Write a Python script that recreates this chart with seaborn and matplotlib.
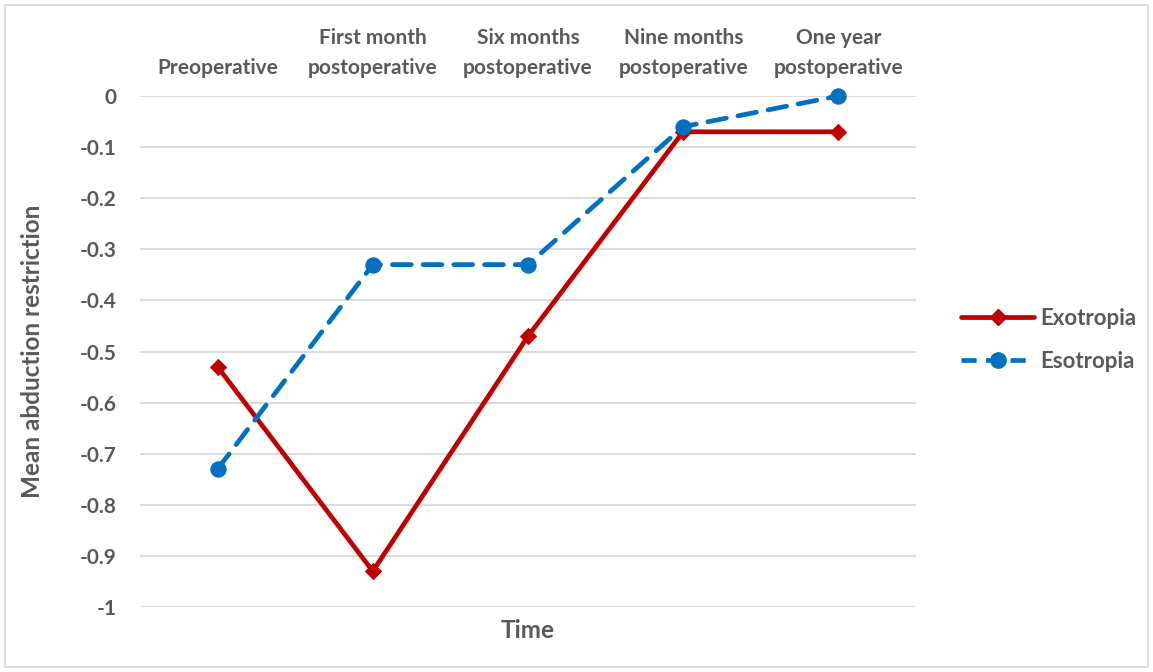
import matplotlib
matplotlib.use("Agg")
import matplotlib.pyplot as plt
import seaborn as sns
import pandas as pd
from matplotlib.patches import Rectangle
from matplotlib.lines import Line2D

categories = ["Preoperative", "First month\npostoperative", "Six months\npostoperative",
              "Nine months\npostoperative", "One year\npostoperative"]
exotropia = [-0.53, -0.93, -0.47, -0.07, -0.07]
esotropia = [-0.73, -0.33, -0.33, -0.06, 0.0]
yticks = [0, -0.1, -0.2, -0.3, -0.4, -0.5, -0.6, -0.7, -0.8, -0.9, -1]
ytick_labels = ["0", "-0.1", "-0.2", "-0.3", "-0.4", "-0.5", "-0.6", "-0.7", "-0.8", "-0.9", "-1"]

sns.set_style("white")
plt.rcParams['font.family'] = ['Lato', 'DejaVu Sans']
gray = "#595959"
red = "#C00000"
blue = "#0070C0"

fig = plt.figure(figsize=(11.53, 6.72), dpi=100)
ax = fig.add_axes([140/1153, 1-607/672, (916-140)/1153, (607-96)/672])

df_exo = pd.DataFrame({"Time": categories, "value": exotropia})
df_eso = pd.DataFrame({"Time": categories, "value": esotropia})

sns.lineplot(data=df_exo, x="Time", y="value", ax=ax, color=red, linewidth=3.4,
             marker="D", markersize=8.5, markeredgecolor=red, sort=False, zorder=3)
sns.lineplot(data=df_eso, x="Time", y="value", ax=ax, color=blue, linewidth=3.4,
             marker="o", markersize=11, markeredgecolor=blue, sort=False, zorder=4,
             dashes=False)
ax.lines[1].set_dashes([4.0, 2.5])
ax.lines[1].set_dash_capstyle("round")
ax.lines[0].set_solid_capstyle("round")

ax.set_xlim(-0.5, 4.5)
ax.set_ylim(-1, 0)
ax.set_yticks(yticks)
ax.set_yticklabels(ytick_labels)
ax.yaxis.grid(True, color="#D9D9D9", linewidth=1.3)
ax.set_axisbelow(True)
for s in ax.spines.values():
    s.set_visible(False)
ax.xaxis.tick_top()
ax.tick_params(axis="x", length=0, pad=13, labelsize=15, labelcolor=gray)
ax.tick_params(axis="y", length=0, pad=17, labelsize=15, labelcolor=gray)
for lab in ax.get_xticklabels():
    lab.set_fontweight("bold")
    lab.set_linespacing(1.6)
for lab in ax.get_yticklabels():
    lab.set_fontweight("bold")
for ln in ax.lines:
    ln.set_clip_on(False)

ax.set_xlabel("")
ax.set_ylabel("")
fig.text((140+916)/2/1153, 1-630/672, "Time", ha="center", va="center",
         fontsize=17.5, fontweight="bold", color=gray)
fig.text(33/1153, 1-351/672, "Mean abduction restriction", ha="center", va="center",
         rotation=90, fontsize=17.5, fontweight="bold", color=gray)

handles = [
    Line2D([], [], color=red, linewidth=3.4, marker="D", markersize=8.5),
    Line2D([], [], color=blue, linewidth=3.4, marker="o", markersize=11, dashes=[3.2, 2.0]),
]
leg = fig.legend(handles, ["Exotropia", "Esotropia"], loc="center left",
                 bbox_to_anchor=(941/1153, 1-340/672), frameon=False,
                 handlelength=3.3, labelspacing=1.0, handletextpad=0.25,
                 prop={"size": 16, "weight": "bold"})
for t in leg.get_texts():
    t.set_color(gray)

fig.patches.append(Rectangle((5/1153, 1-667/672), 1143/1153, 662/672,
                             transform=fig.transFigure, fill=False,
                             edgecolor="#D9D9D9", linewidth=1.2))

fig.savefig("out.png", dpi=100)
